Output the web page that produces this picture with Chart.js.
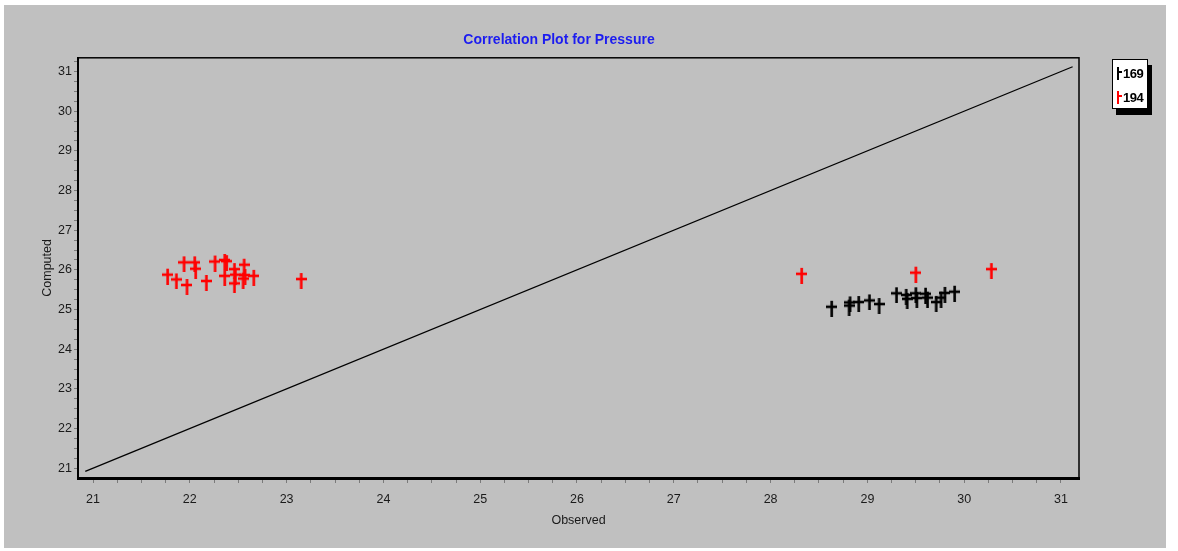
<!DOCTYPE html>
<html>
<head>
<meta charset="utf-8">
<title>Correlation Plot for Pressure</title>
<script src="https://cdn.jsdelivr.net/npm/chart.js"></script>
<style>
  body { margin: 0; background: #fff; width: 1178px; height: 551px; overflow: hidden; }
  .panel { position: absolute; left: 4px; top: 5px; width: 1162px; height: 543px; background: #c0c0c0; }
  .legend { position: absolute; left: 1112px; top: 59px; width: 34px; height: 48px; background: #fff;
            border: 1px solid #000; box-shadow: 4px 6px 0 #000;
            font: bold 13px "Liberation Sans", Arial, sans-serif; color: #000; letter-spacing: -0.5px; }
  .legend .row { position: absolute; left: 4px; height: 14px; line-height: 14px; }
  .legend .mark { display: inline-block; position: relative; width: 6px; height: 13px; vertical-align: -2px; }
  .legend .mark:before { content: ""; position: absolute; left: 0; top: 0; width: 2px; height: 13px; background: currentColor; }
  .legend .mark:after { content: ""; position: absolute; left: 2px; top: 4px; width: 3px; height: 2px; background: currentColor; }
</style>
</head>
<body>
<div class="panel"><canvas id="plot" width="1162" height="543"></canvas></div>
<div class="legend">
  <div class="row" style="top:7px"><span class="mark" style="color:#000"></span><span>169</span></div>
  <div class="row" style="top:31px"><span class="mark" style="color:#f00"></span><span>194</span></div>
</div>
<script>
// well 169 (black) and well 194 (red): observed vs computed pressure
const obs169  = [28.63, 28.81, 28.82, 28.91, 29.02, 29.12, 29.30, 29.40, 29.41, 29.50, 29.51, 29.60, 29.62, 29.71, 29.76, 29.80, 29.90];
const comp169 = [25.07, 25.10, 25.18, 25.19, 25.23, 25.14, 25.41, 25.37, 25.27, 25.41, 25.29, 25.40, 25.30, 25.19, 25.30, 25.42, 25.45];
const obs194  = [21.77, 21.86, 21.97, 21.94, 22.05, 22.06, 22.17, 22.26, 22.36, 22.38, 22.36, 22.46, 22.46, 22.47, 22.56, 22.57, 22.55, 22.66, 23.15, 28.32, 29.50, 30.28];
const comp194 = [25.88, 25.76, 25.62, 26.19, 26.19, 26.03, 25.72, 26.21, 26.25, 26.22, 25.85, 26.02, 25.66, 25.88, 26.13, 25.87, 25.78, 25.85, 25.77, 25.90, 25.93, 26.02];

// 1:1 reference line
const diagObs  = [20.92, 31.12];
const diagComp = [20.92, 31.12];

const xRange = [20.845, 31.186];
const yRange = [20.755, 31.345];

const sans = "'Liberation Sans', Arial, sans-serif";

function toPoints(xs, ys) {
  return xs.map((x, i) => ({ x: x, y: ys[i] }));
}

// dagger shaped cross like the original plot marker
function makeCross(color) {
  const c = document.createElement('canvas');
  c.width = 11; c.height = 20;
  const g = c.getContext('2d');
  g.fillStyle = color;
  g.fillRect(4.3, 4, 2.6, 16);
  g.fillRect(0, 8.7, 11, 2.6);
  return c;
}

const intLabel = v => Math.abs(v - Math.round(v)) < 1e-6 ? String(Math.round(v)) : '';

// thin box round the plot area
const frame = {
  id: 'frame',
  afterDatasetsDraw(chart) {
    const { ctx, chartArea: a } = chart;
    ctx.save();
    ctx.strokeStyle = '#000';
    ctx.lineWidth = 1.5;
    ctx.strokeRect(a.left, a.top, a.right - a.left, a.bottom - a.top);
    ctx.restore();
  }
};

new Chart(document.getElementById('plot'), {
  type: 'scatter',
  data: {
    datasets: [
      { label: '169', data: toPoints(obs169, comp169), pointStyle: makeCross('#000'), pointRadius: 6 },
      { label: '194', data: toPoints(obs194, comp194), pointStyle: makeCross('#f00'), pointRadius: 6 },
      { label: '1:1', data: toPoints(diagObs, diagComp), showLine: true, pointRadius: 0,
        borderColor: '#000', borderWidth: 1.3 }
    ]
  },
  options: {
    responsive: false,
    animation: false,
    devicePixelRatio: 1,
    layout: { padding: { left: 35, right: 87, top: 0, bottom: 0 } },
    plugins: {
      legend: { display: false },
      tooltip: { enabled: false },
      title: {
        display: true,
        text: 'Correlation Plot for Pressure',
        color: '#1c1cf0',
        font: { family: sans, size: 14 },
        padding: { top: 27, bottom: 9 }
      }
    },
    scales: {
      x: {
        min: xRange[0], max: xRange[1],
        afterFit: s => { s.height = 70; },
        border: { color: '#000', width: 3 },
        grid: { drawOnChartArea: false, drawTicks: true, tickLength: 5, tickColor: '#7a7a7a' },
        ticks: { stepSize: 0.25, includeBounds: false, autoSkip: false, maxRotation: 0, padding: 9, color: '#1a1a1a',
                 font: { family: sans, size: 12.5 }, callback: intLabel },
        title: { display: true, text: 'Observed', color: '#1a1a1a',
                 font: { family: sans, size: 12.5 }, padding: { top: 0, bottom: 20 } }
      },
      y: {
        min: yRange[0], max: yRange[1],
        afterFit: s => { s.width = 39; },
        border: { color: '#000', width: 2 },
        grid: { drawOnChartArea: false, drawTicks: true, tickLength: 4, tickColor: '#7a7a7a' },
        ticks: { stepSize: 0.25, includeBounds: false, autoSkip: false, padding: 2, color: '#1a1a1a',
                 font: { family: sans, size: 12.5 }, callback: intLabel },
        title: { display: true, text: 'Computed', color: '#1a1a1a',
                 font: { family: sans, size: 12.5 }, padding: { top: 1, bottom: 0 } }
      }
    }
  },
  plugins: [frame]
});
</script>
</body>
</html>
